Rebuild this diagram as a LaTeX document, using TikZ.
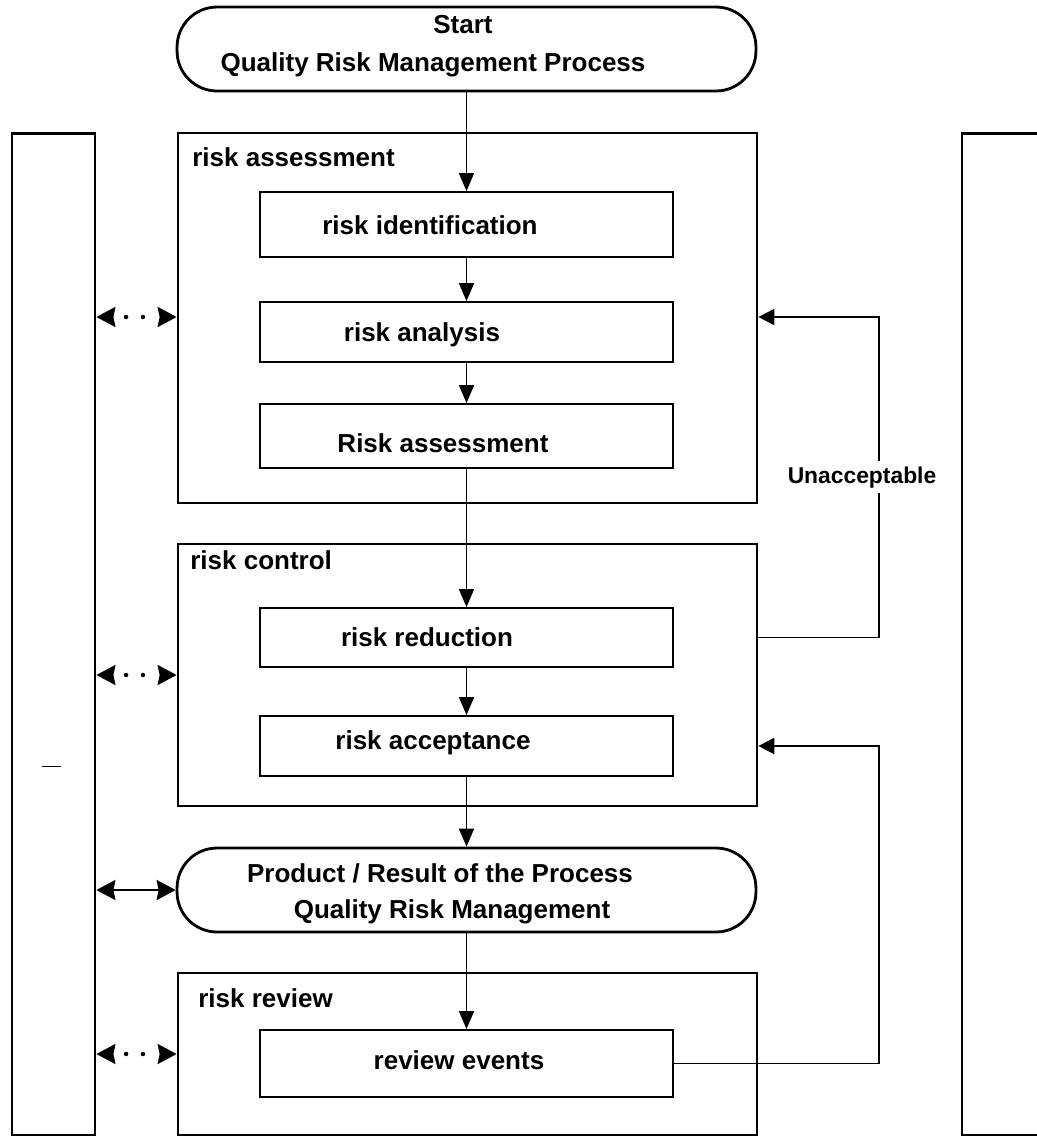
\documentclass[tikz,border=0pt]{standalone}
\usepackage{fontspec}
\setmainfont{Liberation Sans}
\usetikzlibrary{arrows.meta}
\tikzset{
  frame/.style={draw, line width=1.6pt, minimum width=11.58cm},
  column/.style={draw, line width=1.6pt, minimum width=1.66cm, minimum height=20.04cm},
  stepbox/.style={draw, line width=1.1pt, minimum width=8.26cm},
  terminal/.style={draw, line width=1.6pt, rounded corners=0.8cm, minimum width=11.58cm, minimum height=1.68cm},
  txt/.style={font=\bfseries\fontsize{14.8}{17}\selectfont, inner sep=0pt},
  tag/.style={font=\bfseries\fontsize{13}{15}\selectfont, fill=white, inner sep=3pt},
  flow/.style={line width=1.1pt, -{Triangle[length=0.36cm, width=0.3cm]}},
  back/.style={line width=1.1pt, -{Triangle[length=0.32cm, width=0.32cm]}},
  link/.style={line width=1.2pt, {Stealth[length=0.38cm, width=0.4cm, inset=0.04cm]}-{Stealth[length=0.38cm, width=0.4cm, inset=0.04cm]}},
  dotlink/.style={link, dash pattern=on 0pt off 10cm},
  dot/.style={circle, fill, inner sep=0pt, minimum size=0.09cm}
}
\begin{document}
\begin{tikzpicture}[x=0.02cm, y=-0.02cm]
  \useasboundingbox (0,0) rectangle (1036,1137);

  % side columns
  \node[column] (lcol) at (53.5,634) {};
  \node[column, minimum width=1.96cm] (rcol) at (1011,634) {};
  \draw[line width=0.5pt] (42,766) -- (61,766);

  % start
  \node[terminal] (start) at (466.5,49) {};
  \node[txt] (start-a) at (463,25) {Start};
  \node[txt] (start-b) at (433,65) {Quality Risk Management Process};

  % risk assessment
  \node[frame, minimum height=7.4cm] (assess) at (467.5,318) {};
  \node[txt, anchor=west] (assess-t) at (192,157) {risk assessment};
  \node[stepbox, minimum height=1.3cm] (idf) at (466.5,224.5) {};
  \node[txt] (idf-t) at (430,225) {risk identification};
  \node[stepbox, minimum height=1.2cm] (ana) at (466.5,332) {};
  \node[txt] (ana-t) at (422,335) {risk analysis};
  \node[stepbox, minimum height=1.28cm] (ras) at (466.5,436) {};
  \node[txt] (ras-t) at (443,443) {Risk assessment};

  % risk control
  \node[frame, minimum height=5.24cm] (ctrl) at (467.5,675) {};
  \node[txt, anchor=west] (ctrl-t) at (190,560) {risk control};
  \node[stepbox, minimum height=1.18cm] (red) at (466.5,637.5) {};
  \node[txt] (red-t) at (427,637) {risk reduction};
  \node[stepbox, minimum height=1.2cm] (acc) at (466.5,746) {};
  \node[txt] (acc-t) at (433,743) {risk acceptance};

  % result
  \node[terminal] (prod) at (466.5,890) {};
  \node[txt] (prod-a) at (440,873) {Product / Result of the Process};
  \node[txt] (prod-b) at (452,912) {Quality Risk Management};

  % risk review
  \node[frame, minimum height=3.24cm] (review) at (467.5,1054) {};
  \node[txt, anchor=west] (review-t) at (198,998) {risk review};
  \node[stepbox, minimum height=1.34cm] (rev) at (466.5,1063.5) {};
  \node[txt] (rev-t) at (459,1060) {review events};

  % main flow
  \draw[flow] (start) -- (idf);
  \draw[flow] (idf) -- (ana);
  \draw[flow] (ana) -- (ras);
  \draw[flow] (ras) -- (red);
  \draw[flow] (red) -- (acc);
  \draw[flow] (acc) -- (prod);
  \draw[flow] (prod) -- (rev);

  % feedback
  \coordinate (turn) at (879,317);
  \draw[back] (ctrl.east |- red) -| node[pos=0.75, tag, xshift=-0.34cm] {Unacceptable} (turn) -- (turn -| assess.east);
  \draw[back] (rev.east) -| (turn |- acc) -- (ctrl.east |- acc);

  % links to the side column
  \draw[dotlink] (lcol.east |- turn) -- (assess.west |- turn) node[pos=.37, dot] {} node[pos=.58, dot] {};
  \draw[dotlink] (lcol.east |- ctrl) -- (ctrl.west) node[pos=.37, dot] {} node[pos=.58, dot] {};
  \draw[link] (lcol.east |- prod) -- (prod.west);
  \draw[dotlink] (lcol.east |- review) -- (review.west) node[pos=.37, dot] {} node[pos=.58, dot] {};
\end{tikzpicture}
\end{document}
